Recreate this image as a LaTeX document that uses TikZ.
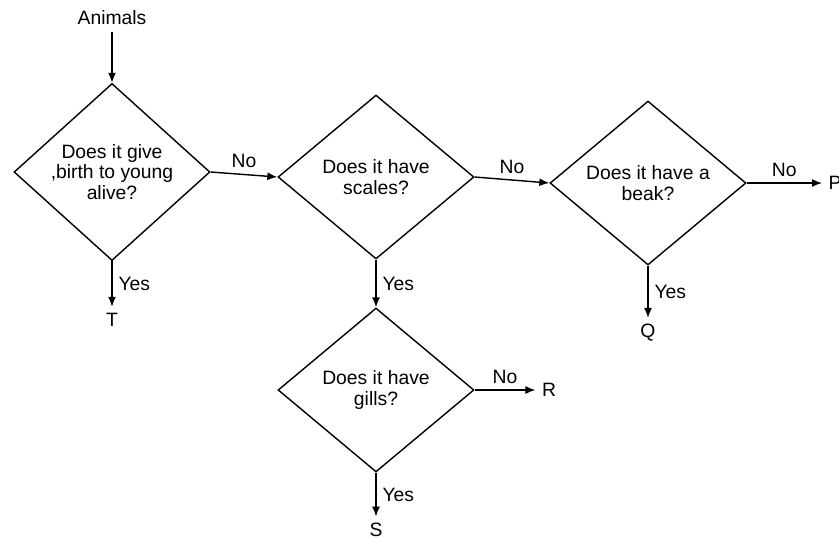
\documentclass[tikz,border=0pt]{standalone}
\usepackage{fontspec}
\setmainfont{Liberation Sans}
\usetikzlibrary{shapes.geometric, arrows.meta}

\begin{document}
\begin{tikzpicture}[x=0.02cm, y=-0.02cm, thick, font=\fontsize{11}{11.5}\selectfont,
    decision/.style = {draw, diamond, minimum width=3.92cm, minimum height=3.28cm, inner sep=0pt, align=center},
    arr/.style = {-{Latex[length=2mm, width=1.6mm]}}]
            \useasboundingbox (0,0) rectangle (839,539);
            \node (animals) at (112,18) {Animals};
            \node[decision] (1) at (112,172) {Does it give\\ ,birth to young\\ alive?};
            \node[decision] (2) at (376,177) {Does it have\\ scales?};
            \node[decision] (3) at (648,183) {Does it have a\\ beak?};
            \node[decision] (4) at (376,390) {Does it have\\ gills?};
            \node (t) at (112,320) {T};
            \node (q) at (648,333) {Q};
            \node (r) at (549,390) {R};
            \node (s) at (376,530) {S};
            \node (p) at (835,183) {P};
            \draw[arr] (animals) -- (1.north);
            \draw[arr] (1.east) -- node[above] {No} (2.west);
            \draw[arr] (1.south) -- node[right] {Yes} (t);
            \draw[arr] (2.east) -- node[above] {No} (3.west);
            \draw[arr] (2.south) -- node[right] {Yes} (4.north);
            \draw[arr] (3.east) -- node[above] {No} (p);
            \draw[arr] (3.south) -- node[right] {Yes} (q);
            \draw[arr] (4.east) -- node[above] {No} (r);
            \draw[arr] (4.south) -- node[right] {Yes} (s);
\end{tikzpicture}
\end{document}
